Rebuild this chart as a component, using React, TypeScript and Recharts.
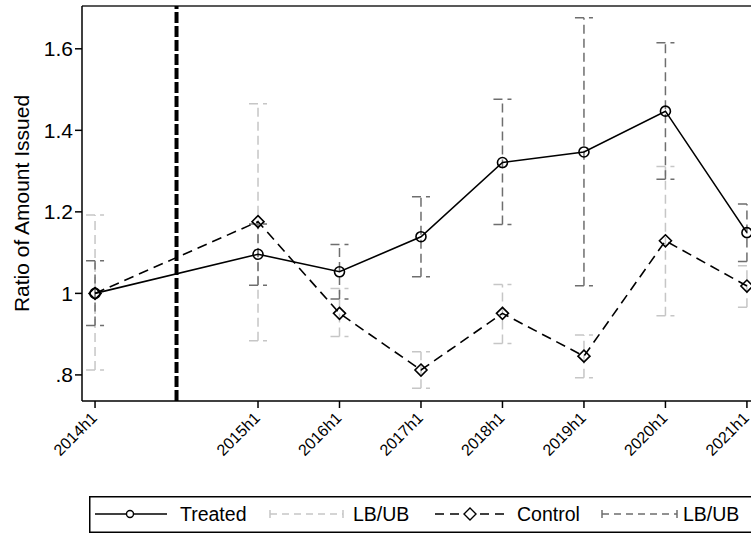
import { ComposedChart, Line, XAxis, YAxis, ErrorBar, ReferenceLine, Legend } from "recharts";

const periods = ["2014h1", "2015h1", "2016h1", "2017h1", "2018h1", "2019h1", "2020h1", "2021h1"];
// half-year time index (2014h2 sits between the first two periods)
const periodIndex = [0, 2, 3, 4, 5, 6, 7, 8];
const treatmentAt = 1;

const treated = [1.0, 1.096, 1.053, 1.139, 1.321, 1.347, 1.447, 1.149];
const treatedLB = [0.921, 1.02, 0.986, 1.041, 1.169, 1.019, 1.28, 1.078];
const treatedUB = [1.08, 1.17, 1.12, 1.237, 1.476, 1.676, 1.615, 1.219];

const control = [1.0, 1.176, 0.951, 0.812, 0.951, 0.846, 1.129, 1.018];
const controlLB = [0.812, 0.884, 0.894, 0.767, 0.877, 0.793, 0.945, 0.966];
const controlUB = [1.192, 1.465, 1.012, 0.857, 1.022, 0.898, 1.311, 1.068];

const yTicks = [0.8, 1, 1.2, 1.4, 1.6];

const data = periods.map((p, i) => ({
  t: periodIndex[i],
  label: p,
  treated: treated[i],
  treatedErr: [treated[i] - treatedLB[i], treatedUB[i] - treated[i]],
  control: control[i],
  controlErr: [control[i] - controlLB[i], controlUB[i] - control[i]],
}));

const FONT = "'Liberation Sans', Arial, Helvetica, sans-serif";
const LIGHT = "#c6c6c6";
const DARK = "#6e6e6e";
const X_DOMAIN: [number, number] = [-0.16, 8.05];
const Y_DOMAIN: [number, number] = [0.736, 1.705];

const fmtY = (v: number) => (v === 1 ? "1" : v < 1 ? ".8" : v.toFixed(1));

function XTick({ x, y, payload }: any) {
  const idx = periodIndex.indexOf(payload.value);
  return (
    <text
      x={x + 3}
      y={y + 9}
      transform={`rotate(-45 ${x + 3} ${y + 9})`}
      textAnchor="end"
      fontSize={16}
      fontFamily={FONT}
      fill="#000"
    >
      {periods[idx]}
    </text>
  );
}

function Circle({ cx, cy }: any) {
  return <circle cx={cx} cy={cy} r={5} fill="none" stroke="#000" strokeWidth={1.6} />;
}

function Diamond({ cx, cy }: any) {
  const s = 6;
  return (
    <path
      d={`M${cx},${cy - s}L${cx + s},${cy}L${cx},${cy + s}L${cx - s},${cy}Z`}
      fill="none"
      stroke="#000"
      strokeWidth={1.6}
    />
  );
}

function BandKey({ x1, x2, y, color }: { x1: number; x2: number; y: number; color: string }) {
  return (
    <g stroke={color} strokeWidth={1.5}>
      <line x1={x1} x2={x2} y1={y} y2={y} strokeDasharray="7 5" />
      <line x1={x1} x2={x1} y1={y - 4} y2={y + 4} />
      <line x1={x2} x2={x2} y1={y - 4} y2={y + 4} />
    </g>
  );
}

// legend box starts at page x = 89
function LegendBox() {
  const ty = 18;
  const txt = { fontSize: 19.5, fontFamily: FONT, fill: "#000", dominantBaseline: "central" as const };
  return (
    <svg width={662} height={37} style={{ display: "block" }}>
      <rect x={0.75} y={0.75} width={662} height={35.5} fill="#fff" stroke="#000" strokeWidth={1.5} />
      <line x1={6} x2={78} y1={ty} y2={ty} stroke="#000" strokeWidth={1.6} />
      <circle cx={41} cy={ty} r={3.5} fill="#fff" stroke="#000" strokeWidth={1.4} />
      <text x={91} y={ty} {...txt}>Treated</text>

      <BandKey x1={181} x2={254} y={ty} color={LIGHT} />
      <text x={264} y={ty} {...txt}>LB/UB</text>

      <line x1={346} x2={421} y1={ty} y2={ty} stroke="#000" strokeWidth={1.6} strokeDasharray="9 6" />
      <path d={`M381,${ty - 6}L387,${ty}L381,${ty + 6}L375,${ty}Z`} fill="#fff" stroke="#000" strokeWidth={1.4} />
      <text x={428} y={ty} {...txt}>Control</text>

      <BandKey x1={513} x2={588} y={ty} color={DARK} />
      <text x={594} y={ty} {...txt}>LB/UB</text>
    </svg>
  );
}

export default function App() {
  return (
    <div style={{ position: "fixed", left: 0, top: 0, width: 751, height: 535, background: "#fff" }}>
      <ComposedChart width={751} height={535} data={data} margin={{ top: 6, right: 0, left: 0, bottom: 2 }}>
        <XAxis
          dataKey="t"
          type="number"
          domain={X_DOMAIN}
          ticks={periodIndex}
          allowDataOverflow
          interval={0}
          height={95}
          tick={<XTick />}
          tickSize={7}
          tickLine={{ stroke: "#000", strokeWidth: 1.5 }}
          axisLine={{ stroke: "#000", strokeWidth: 1.5 }}
        />
        <YAxis
          type="number"
          domain={Y_DOMAIN}
          ticks={yTicks}
          allowDataOverflow
          width={82}
          tickFormatter={fmtY}
          tickSize={7}
          tick={{ fontSize: 21, fontFamily: FONT, fill: "#000" }}
          tickLine={{ stroke: "#000", strokeWidth: 1.5 }}
          axisLine={{ stroke: "#000", strokeWidth: 1.5 }}
          label={{
            value: "Ratio of Amount Issued",
            angle: -90,
            position: "center",
            dx: -19,
            style: { fontSize: 21, fontFamily: FONT, fill: "#000" },
          }}
        />
        <ReferenceLine y={Y_DOMAIN[1]} stroke="#222" strokeWidth={1.5} ifOverflow="visible" />
        <ReferenceLine x={treatmentAt} stroke="#000" strokeWidth={4} strokeDasharray="11 3" />

        {/* confidence bands under the lines */}
        <Line dataKey="control" stroke="none" dot={false} activeDot={false} legendType="none" isAnimationActive={false}>
          <ErrorBar dataKey="controlErr" width={9} stroke={LIGHT} strokeWidth={1.5} strokeDasharray="9 5" direction="y" />
        </Line>
        <Line dataKey="treated" stroke="none" dot={false} activeDot={false} legendType="none" isAnimationActive={false}>
          <ErrorBar dataKey="treatedErr" width={9} stroke={DARK} strokeWidth={1.5} strokeDasharray="9 5" direction="y" />
        </Line>

        <Line
          dataKey="control"
          type="linear"
          stroke="#000"
          strokeWidth={1.6}
          strokeDasharray="10 6"
          dot={<Diamond />}
          activeDot={false}
          isAnimationActive={false}
        />
        <Line
          dataKey="treated"
          type="linear"
          stroke="#000"
          strokeWidth={1.6}
          dot={<Circle />}
          activeDot={false}
          isAnimationActive={false}
        />
        <Legend
          verticalAlign="bottom"
          content={() => <LegendBox />}
          wrapperStyle={{ left: 89, bottom: 2, width: 662, height: 37 }}
        />
      </ComposedChart>
    </div>
  );
}
